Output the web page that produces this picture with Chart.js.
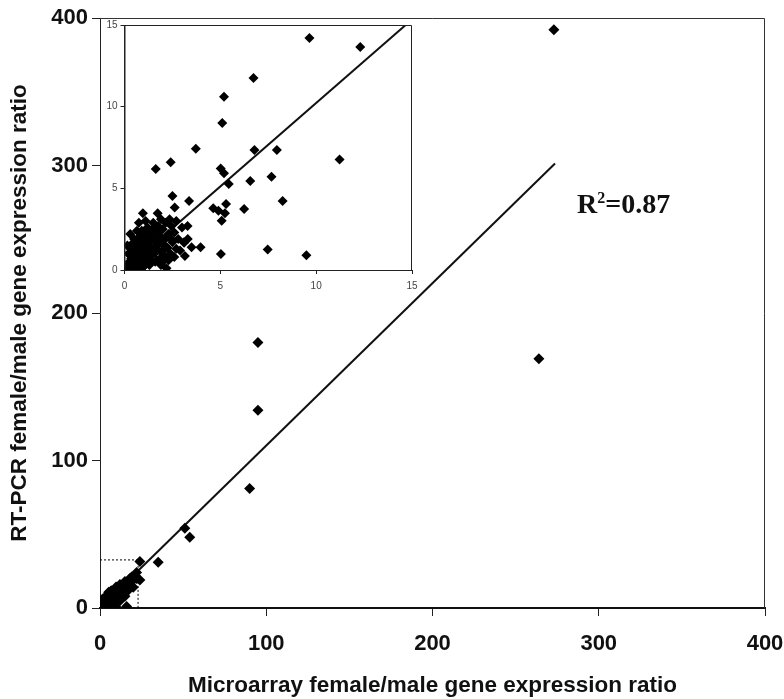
<!DOCTYPE html>
<html>
<head>
<meta charset="utf-8">
<script src="https://cdn.jsdelivr.net/npm/chart.js@4"></script>
<style>
  html, body { margin: 0; padding: 0; background: #fff; }
  #wrap { position: relative; width: 784px; height: 699px; }
  #main { position: absolute; left: 0; top: 0; }
  #inset { position: absolute; left: 100px; top: 16px; }
</style>
</head>
<body>
<div id="wrap">
  <canvas id="main" width="784" height="699"></canvas>
  <canvas id="inset" width="330" height="290"></canvas>
</div>
<script>
// ---------- DATA ----------
// Points seen in the inset (0-15 range); microarray ratio (x) vs RT-PCR ratio (y)
const insetX = [9.65,12.3,6.73,5.19,5.10,3.72,6.78,7.95,11.22,1.63,2.41,5.02,5.19,5.44,6.56,7.67,8.25,6.24,
  3.37,2.5,2.62,4.63,4.9,5.3,5.24,5.07,0.96,1.73,3.29,3.11,3.5,3.97,3.15,5.03,7.47,9.49,2.19,0.05,
  0.1,0.2,0.15,0.3,0.25,0.4,0.35,0.5,0.45,0.6,0.6,0.55,0.7,0.7,0.8,0.8,0.85,0.9,0.95,1.0,1.0,1.05,1.1,1.15,
  1.2,1.25,1.3,1.35,1.4,1.45,1.5,1.55,1.6,1.65,1.7,1.75,1.8,1.85,1.9,2.0,2.05,2.1,2.15,2.2,2.3,2.4,2.45,
  2.5,2.6,2.7,2.8,2.9,3.0,0.3,0.15,0.4,0.5,0.2,0.65,0.9,1.2,1.5,1.0,1.3,0.9,1.6,2.0,2.3,2.6,2.7,3.1,3.3,
  1.1,0.75,1.9,2.35,0.5,0.3,1.9,
  0.6,0.7,0.9,1.1,1.3,1.4,1.6,1.8,2.0,2.2,0.8,1.0,1.2,1.4,1.7,1.9,2.1,2.4,0.35,0.55,0.75,1.05,1.25,1.55,
  1.75,2.25,0.45,0.65,0.95,1.15];
const insetY = [14.2,13.65,11.76,10.6,9.0,7.42,7.34,7.34,6.77,6.18,6.59,6.22,5.92,5.27,5.45,5.71,4.22,3.73,
  4.22,4.53,3.83,3.78,3.63,4.04,3.47,3.02,3.47,3.47,2.69,1.67,1.39,1.39,0.86,0.98,1.26,0.9,0.1,0.0,
  0.05,0.1,0.3,0.2,0.5,0.35,0.7,0.5,0.9,0.3,0.8,1.2,1.0,0.55,0.4,1.3,0.8,1.6,1.1,0.6,1.9,1.4,0.9,2.2,
  1.2,1.7,0.7,2.0,1.4,2.5,1.0,1.8,2.3,1.3,0.6,2.7,1.6,2.1,1.1,2.5,1.8,0.8,2.9,1.4,2.2,1.0,2.7,
  1.7,2.3,3.0,1.9,1.2,2.6,2.2,1.5,1.6,1.9,1.0,2.4,2.4,2.6,2.9,0.2,0.3,0.1,0.5,0.5,0.6,0.8,1.3,1.7,1.9,
  3.0,2.9,3.1,3.1,0.1,0.9,0.3,
  0.15,1.45,1.15,1.65,0.95,2.35,1.05,2.35,1.55,2.05,2.05,0.45,2.45,0.55,2.15,0.75,1.25,1.95,1.25,0.25,
  1.75,0.35,1.45,1.25,2.65,1.35,0.6,0.8,1.3,0.6];
// Extra points only visible in the full-range plot
const mainExtraX = [16,24,24,35,51,54,90,95,95,264,273,18,20,16,14,17,19,21,22,13,12,15,11,10,20,18,15,8,12,22,6,7,9];
const mainExtraY = [1,19,31.5,31,54,48,81,134,180,169,392,17,19,14,15,12,21,22,24,10,16,8,12,6,14,20,18,11,5,20,4,8,7];
// Regression lines (end points)
const mainFitX = [0, 273.7];
const mainFitY = [0, 301.3];
const insetFitX = [0, 14.67];
const insetFitY = [0, 15];
// Dotted zoom box in main plot
const zoomBoxX = [0, 22.9, 22.9];
const zoomBoxY = [32.6, 32.6, 0];
const mainTicks = [0, 100, 200, 300, 400];
const insetTicks = [0, 5, 10, 15];
const xTitle = 'Microarray female/male gene expression ratio';
const yTitle = 'RT-PCR female/male gene expression ratio';
const r2Label = ['R', '2', '=0.87'];

// ---------- BUILD ----------
const zip = (xs, ys) => xs.map((x, i) => ({ x, y: ys[i] }));
const insetPts = zip(insetX, insetY);
const mainPts = insetPts.concat(zip(mainExtraX, mainExtraY));

const frame = {
  id: 'frame',
  afterDraw(chart, args, opts) {
    const { ctx, chartArea: a } = chart;
    ctx.save();
    ctx.strokeStyle = opts.color || '#222';
    ctx.lineWidth = 1;
    ctx.beginPath();
    if (opts.all) {
      ctx.rect(a.left + 0.5, a.top + 0.5, a.right - a.left - 1, a.bottom - a.top);
    } else {
      ctx.moveTo(a.left, a.top + 0.5);
      ctx.lineTo(a.right - 0.5, a.top + 0.5);
      ctx.lineTo(a.right - 0.5, a.bottom);
    }
    ctx.stroke();
    ctx.restore();
  }
};

const r2Plugin = {
  id: 'r2',
  afterDraw(chart) {
    const { ctx } = chart;
    ctx.save();
    ctx.fillStyle = '#111';
    ctx.textBaseline = 'alphabetic';
    const big = 'bold 28px "Liberation Serif", "Times New Roman", serif';
    const small = 'bold 16px "Liberation Serif", "Times New Roman", serif';
    let x = 577, y = 213;
    ctx.font = big;
    ctx.fillText(r2Label[0], x, y);
    x += ctx.measureText(r2Label[0]).width;
    ctx.font = small;
    ctx.fillText(r2Label[1], x, y - 10);
    x += ctx.measureText(r2Label[1]).width;
    ctx.font = big;
    ctx.fillText(r2Label[2], x, y);
    ctx.restore();
  }
};

const axisFont = { family: '"Liberation Sans", Arial, sans-serif', size: 22, weight: 'bold' };
const titleFont = { family: '"Liberation Sans", Arial, sans-serif', size: 22.5, weight: 'bold' };

new Chart(document.getElementById('main'), {
  type: 'scatter',
  data: {
    datasets: [
      { data: mainPts, pointStyle: 'rectRot', pointRadius: 5.5, backgroundColor: '#000', borderColor: '#000', borderWidth: 0, order: 1 },
      { type: 'line', data: zip(mainFitX, mainFitY), borderColor: '#111', borderWidth: 2, pointRadius: 0, fill: false, order: 2 },
      { type: 'line', data: zip(zoomBoxX, zoomBoxY), borderColor: '#000', borderWidth: 1, borderDash: [2, 2], pointRadius: 0, fill: false, order: 3 }
    ]
  },
  options: {
    responsive: false, animation: false, devicePixelRatio: 1,
    layout: { padding: { top: 18, right: 19, left: 0, bottom: 0 } },
    plugins: { legend: { display: false }, tooltip: { enabled: false }, frame: { all: false, color: '#333' } },
    scales: {
      x: {
        type: 'linear', min: 0, max: 400,
        afterBuildTicks: s => { s.ticks = mainTicks.map(v => ({ value: v })); },
        afterFit: s => { s.height = 91; s.paddingLeft = 0; s.paddingRight = 0; },
        ticks: { color: '#111', font: axisFont, padding: 15 },
        grid: { display: true, drawOnChartArea: false, drawTicks: true, tickLength: 8, color: '#222', tickWidth: 1 },
        border: { display: true, color: '#111', width: 2 },
        title: { display: true, text: xTitle, color: '#111', font: titleFont, padding: { top: 0, bottom: 0 } }
      },
      y: {
        type: 'linear', min: 0, max: 400,
        afterBuildTicks: s => { s.ticks = mainTicks.map(v => ({ value: v })); },
        afterFit: s => { s.width = 100; s.paddingTop = 0; s.paddingBottom = 0; },
        ticks: { color: '#111', font: axisFont, padding: 4 },
        grid: { display: true, drawOnChartArea: false, drawTicks: true, tickLength: 8, color: '#222', tickWidth: 1 },
        border: { display: true, color: '#222', width: 1 },
        title: { display: true, text: yTitle, color: '#111', font: titleFont, padding: { top: 6, bottom: 0 } }
      }
    }
  },
  plugins: [frame, r2Plugin]
});

const insetFont = { family: '"Liberation Sans", Arial, sans-serif', size: 10 };
new Chart(document.getElementById('inset'), {
  type: 'scatter',
  data: {
    datasets: [
      { data: insetPts, pointStyle: 'rectRot', pointRadius: 5, backgroundColor: '#000', borderColor: '#000', borderWidth: 0, order: 1 },
      { type: 'line', data: zip(insetFitX, insetFitY), borderColor: '#111', borderWidth: 2, pointRadius: 0, fill: false, order: 2 }
    ]
  },
  options: {
    responsive: false, animation: false, devicePixelRatio: 1,
    layout: { padding: { top: 9, right: 18, left: 0, bottom: 0 } },
    plugins: { legend: { display: false }, tooltip: { enabled: false }, frame: { all: true, color: '#222' } },
    scales: {
      x: {
        type: 'linear', min: 0, max: 15,
        afterBuildTicks: s => { s.ticks = insetTicks.map(v => ({ value: v })); },
        afterFit: s => { s.height = 36; s.paddingLeft = 0; s.paddingRight = 0; },
        ticks: { color: '#444', font: insetFont, padding: 6 },
        grid: { display: true, drawOnChartArea: false, drawTicks: true, tickLength: 4, color: '#222' },
        border: { display: true, color: '#222', width: 1 }
      },
      y: {
        type: 'linear', min: 0, max: 15,
        afterBuildTicks: s => { s.ticks = insetTicks.map(v => ({ value: v })); },
        afterFit: s => { s.width = 24.5; s.paddingTop = 0; s.paddingBottom = 0; },
        ticks: { color: '#444', font: insetFont, padding: 3 },
        grid: { display: true, drawOnChartArea: false, drawTicks: true, tickLength: 4, color: '#222' },
        border: { display: true, color: '#222', width: 1 }
      }
    }
  },
  plugins: [frame]
});
</script>
</body>
</html>
